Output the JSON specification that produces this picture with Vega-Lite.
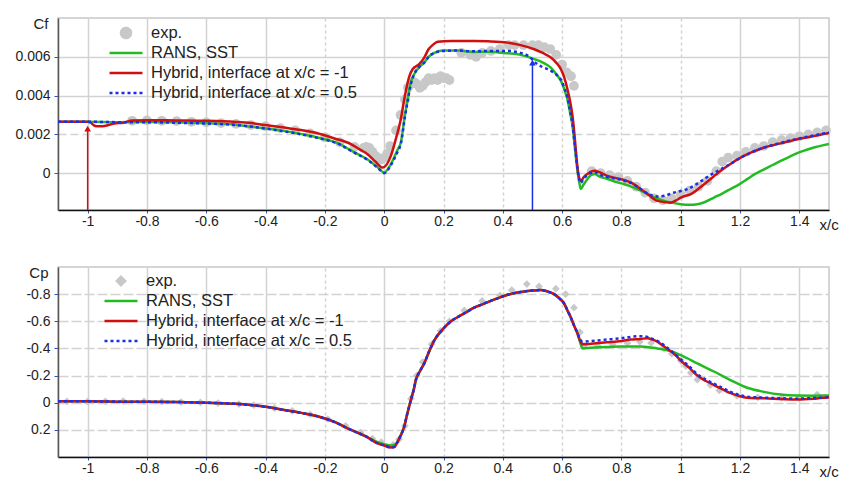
{
"$schema": "https://vega.github.io/schema/vega-lite/v6.json",
"background": "white",
"padding": {"left": 14, "top": 15, "right": 0, "bottom": 0},
"spacing": 31,
"resolve": {"scale": {"color": "independent"}},
"datasets": {
"cf_exp": [
{"s":"exp","x":-0.85,"y":0.0027},{"s":"exp","x":-0.8,"y":0.00272},{"s":"exp","x":-0.75,"y":0.0027},{"s":"exp","x":-0.7,"y":0.00268},{"s":"exp","x":-0.65,"y":0.00265},{"s":"exp","x":-0.6,"y":0.00262},{"s":"exp","x":-0.55,"y":0.00258},{"s":"exp","x":-0.5,"y":0.00254},{"s":"exp","x":-0.45,"y":0.00248},{"s":"exp","x":-0.4,"y":0.00242},{"s":"exp","x":-0.35,"y":0.00232},{"s":"exp","x":-0.3,"y":0.0022},{"s":"exp","x":-0.25,"y":0.00205},{"s":"exp","x":-0.2,"y":0.00185},{"s":"exp","x":-0.15,"y":0.0016},{"s":"exp","x":-0.1,"y":0.00135},{"s":"exp","x":-0.07,"y":0.0013},{"s":"exp","x":-0.06,"y":0.00135},{"s":"exp","x":-0.05,"y":0.0013},{"s":"exp","x":-0.04,"y":0.0011},{"s":"exp","x":-0.03,"y":0.0009},{"s":"exp","x":-0.02,"y":0.00078},{"s":"exp","x":-0.01,"y":0.0007},{"s":"exp","x":0.0,"y":0.0008},{"s":"exp","x":0.01,"y":0.001},{"s":"exp","x":0.02,"y":0.0014},{"s":"exp","x":0.04,"y":0.0022},{"s":"exp","x":0.055,"y":0.003},{"s":"exp","x":0.07,"y":0.0038},{"s":"exp","x":0.08,"y":0.0044},{"s":"exp","x":0.09,"y":0.0046},{"s":"exp","x":0.1,"y":0.0047},{"s":"exp","x":0.11,"y":0.0046},{"s":"exp","x":0.12,"y":0.0044},{"s":"exp","x":0.13,"y":0.0045},{"s":"exp","x":0.14,"y":0.0047},{"s":"exp","x":0.15,"y":0.0049},{"s":"exp","x":0.16,"y":0.0048},{"s":"exp","x":0.17,"y":0.0049},{"s":"exp","x":0.18,"y":0.0048},{"s":"exp","x":0.19,"y":0.005},{"s":"exp","x":0.2,"y":0.0049},{"s":"exp","x":0.21,"y":0.0049},{"s":"exp","x":0.22,"y":0.0048},{"s":"exp","x":0.26,"y":0.0062},{"s":"exp","x":0.29,"y":0.0061},{"s":"exp","x":0.31,"y":0.006},{"s":"exp","x":0.33,"y":0.0062},{"s":"exp","x":0.36,"y":0.0063},{"s":"exp","x":0.39,"y":0.0064},{"s":"exp","x":0.42,"y":0.0066},{"s":"exp","x":0.44,"y":0.0066},{"s":"exp","x":0.47,"y":0.0066},{"s":"exp","x":0.5,"y":0.0066},{"s":"exp","x":0.52,"y":0.0066},{"s":"exp","x":0.54,"y":0.0065},{"s":"exp","x":0.56,"y":0.0064},{"s":"exp","x":0.58,"y":0.0061},{"s":"exp","x":0.6,"y":0.0056},{"s":"exp","x":0.615,"y":0.0052},{"s":"exp","x":0.63,"y":0.005},{"s":"exp","x":0.64,"y":0.0045},{"s":"exp","x":0.7,"y":0.0001},{"s":"exp","x":0.73,"y":0.0},{"s":"exp","x":0.76,"y":-0.0001},{"s":"exp","x":0.79,"y":-0.0002},{"s":"exp","x":0.82,"y":-0.0004},{"s":"exp","x":0.85,"y":-0.0007},{"s":"exp","x":0.88,"y":-0.001},{"s":"exp","x":0.91,"y":-0.0013},{"s":"exp","x":0.94,"y":-0.0014},{"s":"exp","x":0.97,"y":-0.0013},{"s":"exp","x":1.0,"y":-0.0011},{"s":"exp","x":1.03,"y":-0.0009},{"s":"exp","x":1.06,"y":-0.0007},{"s":"exp","x":1.09,"y":-0.0004},{"s":"exp","x":1.12,"y":0.0001},{"s":"exp","x":1.14,"y":0.0006},{"s":"exp","x":1.16,"y":0.0008},{"s":"exp","x":1.19,"y":0.0009},{"s":"exp","x":1.22,"y":0.0011},{"s":"exp","x":1.25,"y":0.0013},{"s":"exp","x":1.28,"y":0.0014},{"s":"exp","x":1.31,"y":0.0016},{"s":"exp","x":1.34,"y":0.0017},{"s":"exp","x":1.37,"y":0.0018},{"s":"exp","x":1.4,"y":0.0019},{"s":"exp","x":1.43,"y":0.002},{"s":"exp","x":1.46,"y":0.0021},{"s":"exp","x":1.49,"y":0.0022}
],
"cf_sst": [
{"s":"sst","x":-1.1,"y":0.00265},{"s":"sst","x":-1.0,"y":0.00265},{"s":"sst","x":-0.9,"y":0.00263},{"s":"sst","x":-0.8,"y":0.00264},{"s":"sst","x":-0.7,"y":0.00262},{"s":"sst","x":-0.6,"y":0.00257},{"s":"sst","x":-0.5,"y":0.0025},{"s":"sst","x":-0.45,"y":0.0024},{"s":"sst","x":-0.34,"y":0.00218},{"s":"sst","x":-0.225,"y":0.00184},{"s":"sst","x":-0.15,"y":0.0015},{"s":"sst","x":-0.11,"y":0.00115},{"s":"sst","x":-0.056,"y":0.0007},{"s":"sst","x":-0.022,"y":0.0003},{"s":"sst","x":0.0,"y":0.00003},{"s":"sst","x":0.02,"y":0.0004},{"s":"sst","x":0.045,"y":0.0012},{"s":"sst","x":0.056,"y":0.00158},{"s":"sst","x":0.07,"y":0.003},{"s":"sst","x":0.079,"y":0.0038},{"s":"sst","x":0.09,"y":0.0047},{"s":"sst","x":0.101,"y":0.0051},{"s":"sst","x":0.12,"y":0.0055},{"s":"sst","x":0.135,"y":0.0057},{"s":"sst","x":0.15,"y":0.006},{"s":"sst","x":0.169,"y":0.0062},{"s":"sst","x":0.2,"y":0.00632},{"s":"sst","x":0.25,"y":0.00632},{"s":"sst","x":0.3,"y":0.00625},{"s":"sst","x":0.35,"y":0.00626},{"s":"sst","x":0.416,"y":0.00618},{"s":"sst","x":0.46,"y":0.0061},{"s":"sst","x":0.506,"y":0.00588},{"s":"sst","x":0.535,"y":0.0057},{"s":"sst","x":0.562,"y":0.00544},{"s":"sst","x":0.58,"y":0.0051},{"s":"sst","x":0.596,"y":0.00476},{"s":"sst","x":0.608,"y":0.0043},{"s":"sst","x":0.618,"y":0.0038},{"s":"sst","x":0.627,"y":0.0031},{"s":"sst","x":0.635,"y":0.00244},{"s":"sst","x":0.641,"y":0.0016},{"s":"sst","x":0.646,"y":0.00089},{"s":"sst","x":0.652,"y":0.0001},{"s":"sst","x":0.657,"y":-0.0004},{"s":"sst","x":0.663,"y":-0.00082},{"s":"sst","x":0.672,"y":-0.0006},{"s":"sst","x":0.685,"y":-0.00031},{"s":"sst","x":0.697,"y":-0.0001},{"s":"sst","x":0.708,"y":-0.00005},{"s":"sst","x":0.73,"y":-0.0002},{"s":"sst","x":0.753,"y":-0.0003},{"s":"sst","x":0.78,"y":-0.00045},{"s":"sst","x":0.809,"y":-0.00057},{"s":"sst","x":0.831,"y":-0.00068},{"s":"sst","x":0.865,"y":-0.0009},{"s":"sst","x":0.888,"y":-0.00108},{"s":"sst","x":0.92,"y":-0.0013},{"s":"sst","x":0.944,"y":-0.00143},{"s":"sst","x":0.97,"y":-0.00152},{"s":"sst","x":1.0,"y":-0.0016},{"s":"sst","x":1.03,"y":-0.00163},{"s":"sst","x":1.056,"y":-0.0016},{"s":"sst","x":1.08,"y":-0.0015},{"s":"sst","x":1.112,"y":-0.00126},{"s":"sst","x":1.14,"y":-0.00105},{"s":"sst","x":1.168,"y":-0.00082},{"s":"sst","x":1.2,"y":-0.00055},{"s":"sst","x":1.224,"y":-0.00031},{"s":"sst","x":1.25,"y":-0.00005},{"s":"sst","x":1.281,"y":0.0002},{"s":"sst","x":1.31,"y":0.00042},{"s":"sst","x":1.337,"y":0.00063},{"s":"sst","x":1.365,"y":0.00083},{"s":"sst","x":1.393,"y":0.00103},{"s":"sst","x":1.42,"y":0.00118},{"s":"sst","x":1.449,"y":0.00132},{"s":"sst","x":1.475,"y":0.00142},{"s":"sst","x":1.5,"y":0.0015}
],
"cf_h1": [
{"s":"h1","x":-1.1,"y":0.00265},{"s":"h1","x":-1.0,"y":0.00265},{"s":"h1","x":-0.99,"y":0.0026},{"s":"h1","x":-0.98,"y":0.00248},{"s":"h1","x":-0.97,"y":0.00242},{"s":"h1","x":-0.95,"y":0.00242},{"s":"h1","x":-0.93,"y":0.00248},{"s":"h1","x":-0.91,"y":0.00256},{"s":"h1","x":-0.88,"y":0.0026},{"s":"h1","x":-0.85,"y":0.00272},{"s":"h1","x":-0.8,"y":0.00273},{"s":"h1","x":-0.7,"y":0.00272},{"s":"h1","x":-0.6,"y":0.0027},{"s":"h1","x":-0.5,"y":0.00264},{"s":"h1","x":-0.449,"y":0.00258},{"s":"h1","x":-0.4,"y":0.00248},{"s":"h1","x":-0.337,"y":0.00235},{"s":"h1","x":-0.28,"y":0.00222},{"s":"h1","x":-0.225,"y":0.00206},{"s":"h1","x":-0.17,"y":0.0018},{"s":"h1","x":-0.112,"y":0.0015},{"s":"h1","x":-0.08,"y":0.0012},{"s":"h1","x":-0.056,"y":0.00098},{"s":"h1","x":-0.03,"y":0.0006},{"s":"h1","x":-0.005,"y":0.00029},{"s":"h1","x":0.0225,"y":0.00089},{"s":"h1","x":0.04,"y":0.0018},{"s":"h1","x":0.056,"y":0.00278},{"s":"h1","x":0.07,"y":0.004},{"s":"h1","x":0.085,"y":0.005},{"s":"h1","x":0.0957,"y":0.00536},{"s":"h1","x":0.118,"y":0.00562},{"s":"h1","x":0.135,"y":0.00596},{"s":"h1","x":0.15,"y":0.0064},{"s":"h1","x":0.163,"y":0.0066},{"s":"h1","x":0.18,"y":0.00677},{"s":"h1","x":0.225,"y":0.00682},{"s":"h1","x":0.303,"y":0.00682},{"s":"h1","x":0.35,"y":0.0068},{"s":"h1","x":0.416,"y":0.00673},{"s":"h1","x":0.46,"y":0.0066},{"s":"h1","x":0.506,"y":0.00639},{"s":"h1","x":0.535,"y":0.0062},{"s":"h1","x":0.562,"y":0.00596},{"s":"h1","x":0.58,"y":0.0057},{"s":"h1","x":0.596,"y":0.00536},{"s":"h1","x":0.608,"y":0.0049},{"s":"h1","x":0.618,"y":0.00433},{"s":"h1","x":0.627,"y":0.0037},{"s":"h1","x":0.635,"y":0.00295},{"s":"h1","x":0.641,"y":0.0021},{"s":"h1","x":0.646,"y":0.00124},{"s":"h1","x":0.654,"y":0.00003},{"s":"h1","x":0.663,"y":-0.0004},{"s":"h1","x":0.673,"y":-0.0002},{"s":"h1","x":0.685,"y":-0.00005},{"s":"h1","x":0.708,"y":0.00012},{"s":"h1","x":0.73,"y":0.00002},{"s":"h1","x":0.753,"y":-0.00014},{"s":"h1","x":0.798,"y":-0.00031},{"s":"h1","x":0.831,"y":-0.00048},{"s":"h1","x":0.865,"y":-0.00082},{"s":"h1","x":0.888,"y":-0.00108},{"s":"h1","x":0.921,"y":-0.00143},{"s":"h1","x":0.966,"y":-0.00152},{"s":"h1","x":0.985,"y":-0.0014},{"s":"h1","x":1.0,"y":-0.00126},{"s":"h1","x":1.034,"y":-0.00108},{"s":"h1","x":1.079,"y":-0.00057},{"s":"h1","x":1.135,"y":0.00012},{"s":"h1","x":1.17,"y":0.0005},{"s":"h1","x":1.202,"y":0.0008},{"s":"h1","x":1.24,"y":0.00108},{"s":"h1","x":1.281,"y":0.00132},{"s":"h1","x":1.34,"y":0.00155},{"s":"h1","x":1.393,"y":0.00175},{"s":"h1","x":1.45,"y":0.00192},{"s":"h1","x":1.5,"y":0.00207}
],
"cf_h05": [
{"s":"h05","x":-1.1,"y":0.00265},{"s":"h05","x":-1.0,"y":0.00265},{"s":"h05","x":-0.9,"y":0.00263},{"s":"h05","x":-0.8,"y":0.00263},{"s":"h05","x":-0.7,"y":0.0026},{"s":"h05","x":-0.6,"y":0.00256},{"s":"h05","x":-0.5,"y":0.00248},{"s":"h05","x":-0.45,"y":0.0024},{"s":"h05","x":-0.34,"y":0.00216},{"s":"h05","x":-0.225,"y":0.00182},{"s":"h05","x":-0.15,"y":0.00148},{"s":"h05","x":-0.11,"y":0.00113},{"s":"h05","x":-0.056,"y":0.00068},{"s":"h05","x":-0.022,"y":0.00028},{"s":"h05","x":0.0,"y":0.0},{"s":"h05","x":0.02,"y":0.00035},{"s":"h05","x":0.045,"y":0.0011},{"s":"h05","x":0.056,"y":0.0015},{"s":"h05","x":0.07,"y":0.0029},{"s":"h05","x":0.079,"y":0.0037},{"s":"h05","x":0.09,"y":0.0046},{"s":"h05","x":0.101,"y":0.0051},{"s":"h05","x":0.12,"y":0.0055},{"s":"h05","x":0.135,"y":0.0057},{"s":"h05","x":0.15,"y":0.006},{"s":"h05","x":0.169,"y":0.0062},{"s":"h05","x":0.2,"y":0.0063},{"s":"h05","x":0.25,"y":0.00632},{"s":"h05","x":0.3,"y":0.00628},{"s":"h05","x":0.35,"y":0.0063},{"s":"h05","x":0.416,"y":0.0063},{"s":"h05","x":0.46,"y":0.0062},{"s":"h05","x":0.49,"y":0.006},{"s":"h05","x":0.51,"y":0.0057},{"s":"h05","x":0.53,"y":0.0055},{"s":"h05","x":0.551,"y":0.00536},{"s":"h05","x":0.57,"y":0.0052},{"s":"h05","x":0.585,"y":0.00502},{"s":"h05","x":0.6,"y":0.0047},{"s":"h05","x":0.607,"y":0.00441},{"s":"h05","x":0.618,"y":0.0039},{"s":"h05","x":0.627,"y":0.0032},{"s":"h05","x":0.635,"y":0.0025},{"s":"h05","x":0.641,"y":0.0017},{"s":"h05","x":0.646,"y":0.001},{"s":"h05","x":0.652,"y":0.0002},{"s":"h05","x":0.657,"y":-0.0003},{"s":"h05","x":0.663,"y":-0.0005},{"s":"h05","x":0.672,"y":-0.0003},{"s":"h05","x":0.685,"y":-0.0001},{"s":"h05","x":0.708,"y":0.00005},{"s":"h05","x":0.73,"y":-0.0001},{"s":"h05","x":0.753,"y":-0.0002},{"s":"h05","x":0.8,"y":-0.00035},{"s":"h05","x":0.831,"y":-0.0005},{"s":"h05","x":0.865,"y":-0.00082},{"s":"h05","x":0.888,"y":-0.00105},{"s":"h05","x":0.92,"y":-0.0012},{"s":"h05","x":0.944,"y":-0.00117},{"s":"h05","x":0.978,"y":-0.001},{"s":"h05","x":1.0,"y":-0.00092},{"s":"h05","x":1.022,"y":-0.00082},{"s":"h05","x":1.05,"y":-0.0006},{"s":"h05","x":1.079,"y":-0.00031},{"s":"h05","x":1.1,"y":-0.0001},{"s":"h05","x":1.135,"y":0.0002},{"s":"h05","x":1.17,"y":0.0005},{"s":"h05","x":1.202,"y":0.0008},{"s":"h05","x":1.24,"y":0.00108},{"s":"h05","x":1.281,"y":0.00132},{"s":"h05","x":1.34,"y":0.00157},{"s":"h05","x":1.393,"y":0.00177},{"s":"h05","x":1.45,"y":0.00195},{"s":"h05","x":1.5,"y":0.0021}
],
"cf_arrows": [
{"s":"h1","x":-1,"tip":0.0023},{"s":"h05","x":0.5,"tip":0.0057}
],
"cp_exp": [
{"s":"exp","x":-1.07,"y":-0.01},{"s":"exp","x":-1.0,"y":-0.01},{"s":"exp","x":-0.94,"y":-0.01},{"s":"exp","x":-0.88,"y":-0.012},{"s":"exp","x":-0.81,"y":-0.01},{"s":"exp","x":-0.75,"y":-0.008},{"s":"exp","x":-0.685,"y":-0.005},{"s":"exp","x":-0.62,"y":-0.002},{"s":"exp","x":-0.56,"y":0.003},{"s":"exp","x":-0.49,"y":0.01},{"s":"exp","x":-0.44,"y":0.018},{"s":"exp","x":-0.37,"y":0.04},{"s":"exp","x":-0.31,"y":0.06},{"s":"exp","x":-0.25,"y":0.085},{"s":"exp","x":-0.19,"y":0.12},{"s":"exp","x":-0.13,"y":0.17},{"s":"exp","x":-0.08,"y":0.22},{"s":"exp","x":-0.04,"y":0.265},{"s":"exp","x":-0.01,"y":0.29},{"s":"exp","x":0.03,"y":0.31},{"s":"exp","x":0.05,"y":0.27},{"s":"exp","x":0.07,"y":0.17},{"s":"exp","x":0.09,"y":-0.03},{"s":"exp","x":0.11,"y":-0.2},{"s":"exp","x":0.13,"y":-0.3},{"s":"exp","x":0.16,"y":-0.43},{"s":"exp","x":0.19,"y":-0.53},{"s":"exp","x":0.22,"y":-0.6},{"s":"exp","x":0.27,"y":-0.68},{"s":"exp","x":0.33,"y":-0.75},{"s":"exp","x":0.39,"y":-0.79},{"s":"exp","x":0.43,"y":-0.83},{"s":"exp","x":0.481,"y":-0.874},{"s":"exp","x":0.522,"y":-0.857},{"s":"exp","x":0.579,"y":-0.84},{"s":"exp","x":0.612,"y":-0.8},{"s":"exp","x":0.64,"y":-0.7},{"s":"exp","x":0.66,"y":-0.52},{"s":"exp","x":0.674,"y":-0.42},{"s":"exp","x":0.72,"y":-0.42},{"s":"exp","x":0.77,"y":-0.43},{"s":"exp","x":0.82,"y":-0.44},{"s":"exp","x":0.862,"y":-0.45},{"s":"exp","x":0.9,"y":-0.44},{"s":"exp","x":0.944,"y":-0.4},{"s":"exp","x":0.97,"y":-0.36},{"s":"exp","x":1.0,"y":-0.31},{"s":"exp","x":1.017,"y":-0.27},{"s":"exp","x":1.034,"y":-0.22},{"s":"exp","x":1.056,"y":-0.17},{"s":"exp","x":1.1,"y":-0.13},{"s":"exp","x":1.13,"y":-0.09},{"s":"exp","x":1.19,"y":-0.05},{"s":"exp","x":1.26,"y":-0.04},{"s":"exp","x":1.34,"y":-0.035},{"s":"exp","x":1.4,"y":-0.04},{"s":"exp","x":1.46,"y":-0.06}
],
"cp_sst": [
{"s":"sst","x":-1.1,"y":-0.01},{"s":"sst","x":-1.0,"y":-0.01},{"s":"sst","x":-0.9,"y":-0.008},{"s":"sst","x":-0.8,"y":-0.007},{"s":"sst","x":-0.7,"y":-0.005},{"s":"sst","x":-0.6,"y":0.0},{"s":"sst","x":-0.5,"y":0.008},{"s":"sst","x":-0.45,"y":0.017},{"s":"sst","x":-0.4,"y":0.03},{"s":"sst","x":-0.337,"y":0.054},{"s":"sst","x":-0.28,"y":0.075},{"s":"sst","x":-0.225,"y":0.1},{"s":"sst","x":-0.17,"y":0.14},{"s":"sst","x":-0.112,"y":0.2},{"s":"sst","x":-0.06,"y":0.25},{"s":"sst","x":-0.022,"y":0.29},{"s":"sst","x":0.0,"y":0.305},{"s":"sst","x":0.023,"y":0.315},{"s":"sst","x":0.035,"y":0.31},{"s":"sst","x":0.045,"y":0.285},{"s":"sst","x":0.056,"y":0.24},{"s":"sst","x":0.067,"y":0.18},{"s":"sst","x":0.078,"y":0.08},{"s":"sst","x":0.09,"y":-0.02},{"s":"sst","x":0.1,"y":-0.1},{"s":"sst","x":0.107,"y":-0.17},{"s":"sst","x":0.12,"y":-0.23},{"s":"sst","x":0.135,"y":-0.29},{"s":"sst","x":0.15,"y":-0.37},{"s":"sst","x":0.169,"y":-0.46},{"s":"sst","x":0.185,"y":-0.51},{"s":"sst","x":0.197,"y":-0.54},{"s":"sst","x":0.225,"y":-0.6},{"s":"sst","x":0.247,"y":-0.63},{"s":"sst","x":0.275,"y":-0.665},{"s":"sst","x":0.303,"y":-0.7},{"s":"sst","x":0.331,"y":-0.725},{"s":"sst","x":0.359,"y":-0.75},{"s":"sst","x":0.387,"y":-0.773},{"s":"sst","x":0.416,"y":-0.795},{"s":"sst","x":0.444,"y":-0.81},{"s":"sst","x":0.472,"y":-0.82},{"s":"sst","x":0.5,"y":-0.826},{"s":"sst","x":0.528,"y":-0.83},{"s":"sst","x":0.55,"y":-0.82},{"s":"sst","x":0.573,"y":-0.8},{"s":"sst","x":0.59,"y":-0.77},{"s":"sst","x":0.607,"y":-0.73},{"s":"sst","x":0.618,"y":-0.68},{"s":"sst","x":0.629,"y":-0.63},{"s":"sst","x":0.64,"y":-0.57},{"s":"sst","x":0.652,"y":-0.51},{"s":"sst","x":0.66,"y":-0.45},{"s":"sst","x":0.669,"y":-0.4},{"s":"sst","x":0.697,"y":-0.405},{"s":"sst","x":0.75,"y":-0.41},{"s":"sst","x":0.8,"y":-0.415},{"s":"sst","x":0.865,"y":-0.415},{"s":"sst","x":0.921,"y":-0.4},{"s":"sst","x":0.966,"y":-0.38},{"s":"sst","x":1.0,"y":-0.35},{"s":"sst","x":1.056,"y":-0.29},{"s":"sst","x":1.112,"y":-0.23},{"s":"sst","x":1.168,"y":-0.166},{"s":"sst","x":1.224,"y":-0.11},{"s":"sst","x":1.281,"y":-0.08},{"s":"sst","x":1.337,"y":-0.06},{"s":"sst","x":1.393,"y":-0.053},{"s":"sst","x":1.45,"y":-0.052},{"s":"sst","x":1.5,"y":-0.053}
],
"cp_h1": [
{"s":"h1","x":-1.1,"y":-0.01},{"s":"h1","x":-1.0,"y":-0.01},{"s":"h1","x":-0.9,"y":-0.008},{"s":"h1","x":-0.8,"y":-0.007},{"s":"h1","x":-0.7,"y":-0.005},{"s":"h1","x":-0.6,"y":0.0},{"s":"h1","x":-0.5,"y":0.008},{"s":"h1","x":-0.45,"y":0.017},{"s":"h1","x":-0.4,"y":0.03},{"s":"h1","x":-0.337,"y":0.054},{"s":"h1","x":-0.28,"y":0.075},{"s":"h1","x":-0.225,"y":0.1},{"s":"h1","x":-0.17,"y":0.14},{"s":"h1","x":-0.112,"y":0.2},{"s":"h1","x":-0.06,"y":0.25},{"s":"h1","x":-0.022,"y":0.3},{"s":"h1","x":0.0,"y":0.315},{"s":"h1","x":0.023,"y":0.33},{"s":"h1","x":0.035,"y":0.325},{"s":"h1","x":0.045,"y":0.29},{"s":"h1","x":0.056,"y":0.24},{"s":"h1","x":0.067,"y":0.18},{"s":"h1","x":0.078,"y":0.08},{"s":"h1","x":0.09,"y":-0.02},{"s":"h1","x":0.1,"y":-0.1},{"s":"h1","x":0.107,"y":-0.17},{"s":"h1","x":0.12,"y":-0.23},{"s":"h1","x":0.135,"y":-0.29},{"s":"h1","x":0.15,"y":-0.37},{"s":"h1","x":0.169,"y":-0.46},{"s":"h1","x":0.185,"y":-0.51},{"s":"h1","x":0.197,"y":-0.54},{"s":"h1","x":0.225,"y":-0.6},{"s":"h1","x":0.247,"y":-0.63},{"s":"h1","x":0.275,"y":-0.665},{"s":"h1","x":0.303,"y":-0.7},{"s":"h1","x":0.331,"y":-0.725},{"s":"h1","x":0.359,"y":-0.75},{"s":"h1","x":0.387,"y":-0.773},{"s":"h1","x":0.416,"y":-0.795},{"s":"h1","x":0.444,"y":-0.81},{"s":"h1","x":0.472,"y":-0.82},{"s":"h1","x":0.5,"y":-0.826},{"s":"h1","x":0.528,"y":-0.83},{"s":"h1","x":0.55,"y":-0.82},{"s":"h1","x":0.573,"y":-0.8},{"s":"h1","x":0.59,"y":-0.77},{"s":"h1","x":0.607,"y":-0.73},{"s":"h1","x":0.618,"y":-0.68},{"s":"h1","x":0.629,"y":-0.63},{"s":"h1","x":0.64,"y":-0.57},{"s":"h1","x":0.652,"y":-0.51},{"s":"h1","x":0.66,"y":-0.46},{"s":"h1","x":0.669,"y":-0.43},{"s":"h1","x":0.7,"y":-0.435},{"s":"h1","x":0.75,"y":-0.445},{"s":"h1","x":0.8,"y":-0.455},{"s":"h1","x":0.831,"y":-0.465},{"s":"h1","x":0.865,"y":-0.47},{"s":"h1","x":0.888,"y":-0.475},{"s":"h1","x":0.905,"y":-0.465},{"s":"h1","x":0.921,"y":-0.45},{"s":"h1","x":0.94,"y":-0.42},{"s":"h1","x":0.966,"y":-0.38},{"s":"h1","x":0.985,"y":-0.345},{"s":"h1","x":1.0,"y":-0.31},{"s":"h1","x":1.03,"y":-0.255},{"s":"h1","x":1.056,"y":-0.2},{"s":"h1","x":1.085,"y":-0.16},{"s":"h1","x":1.112,"y":-0.13},{"s":"h1","x":1.14,"y":-0.1},{"s":"h1","x":1.168,"y":-0.07},{"s":"h1","x":1.2,"y":-0.048},{"s":"h1","x":1.224,"y":-0.037},{"s":"h1","x":1.25,"y":-0.033},{"s":"h1","x":1.281,"y":-0.032},{"s":"h1","x":1.34,"y":-0.027},{"s":"h1","x":1.393,"y":-0.024},{"s":"h1","x":1.45,"y":-0.03},{"s":"h1","x":1.5,"y":-0.04}
],
"cp_h05": [
{"s":"h05","x":-1.1,"y":-0.01},{"s":"h05","x":-1.0,"y":-0.01},{"s":"h05","x":-0.9,"y":-0.008},{"s":"h05","x":-0.8,"y":-0.007},{"s":"h05","x":-0.7,"y":-0.005},{"s":"h05","x":-0.6,"y":0.0},{"s":"h05","x":-0.5,"y":0.008},{"s":"h05","x":-0.45,"y":0.017},{"s":"h05","x":-0.4,"y":0.03},{"s":"h05","x":-0.337,"y":0.054},{"s":"h05","x":-0.28,"y":0.075},{"s":"h05","x":-0.225,"y":0.1},{"s":"h05","x":-0.17,"y":0.14},{"s":"h05","x":-0.112,"y":0.2},{"s":"h05","x":-0.06,"y":0.25},{"s":"h05","x":-0.022,"y":0.3},{"s":"h05","x":0.0,"y":0.315},{"s":"h05","x":0.023,"y":0.33},{"s":"h05","x":0.035,"y":0.325},{"s":"h05","x":0.045,"y":0.29},{"s":"h05","x":0.056,"y":0.24},{"s":"h05","x":0.067,"y":0.18},{"s":"h05","x":0.078,"y":0.08},{"s":"h05","x":0.09,"y":-0.02},{"s":"h05","x":0.1,"y":-0.1},{"s":"h05","x":0.107,"y":-0.17},{"s":"h05","x":0.12,"y":-0.23},{"s":"h05","x":0.135,"y":-0.29},{"s":"h05","x":0.15,"y":-0.37},{"s":"h05","x":0.169,"y":-0.46},{"s":"h05","x":0.185,"y":-0.51},{"s":"h05","x":0.197,"y":-0.54},{"s":"h05","x":0.225,"y":-0.6},{"s":"h05","x":0.247,"y":-0.63},{"s":"h05","x":0.275,"y":-0.665},{"s":"h05","x":0.303,"y":-0.7},{"s":"h05","x":0.331,"y":-0.725},{"s":"h05","x":0.359,"y":-0.75},{"s":"h05","x":0.387,"y":-0.773},{"s":"h05","x":0.416,"y":-0.795},{"s":"h05","x":0.444,"y":-0.81},{"s":"h05","x":0.472,"y":-0.82},{"s":"h05","x":0.5,"y":-0.826},{"s":"h05","x":0.528,"y":-0.83},{"s":"h05","x":0.55,"y":-0.82},{"s":"h05","x":0.573,"y":-0.8},{"s":"h05","x":0.59,"y":-0.77},{"s":"h05","x":0.607,"y":-0.73},{"s":"h05","x":0.618,"y":-0.68},{"s":"h05","x":0.629,"y":-0.63},{"s":"h05","x":0.64,"y":-0.57},{"s":"h05","x":0.652,"y":-0.51},{"s":"h05","x":0.66,"y":-0.47},{"s":"h05","x":0.669,"y":-0.45},{"s":"h05","x":0.697,"y":-0.455},{"s":"h05","x":0.75,"y":-0.465},{"s":"h05","x":0.8,"y":-0.475},{"s":"h05","x":0.831,"y":-0.485},{"s":"h05","x":0.865,"y":-0.49},{"s":"h05","x":0.888,"y":-0.485},{"s":"h05","x":0.905,"y":-0.47},{"s":"h05","x":0.921,"y":-0.455},{"s":"h05","x":0.94,"y":-0.43},{"s":"h05","x":0.966,"y":-0.385},{"s":"h05","x":1.0,"y":-0.32},{"s":"h05","x":1.03,"y":-0.265},{"s":"h05","x":1.056,"y":-0.21},{"s":"h05","x":1.085,"y":-0.17},{"s":"h05","x":1.112,"y":-0.14},{"s":"h05","x":1.14,"y":-0.11},{"s":"h05","x":1.168,"y":-0.08},{"s":"h05","x":1.2,"y":-0.055},{"s":"h05","x":1.224,"y":-0.045},{"s":"h05","x":1.25,"y":-0.04},{"s":"h05","x":1.281,"y":-0.037},{"s":"h05","x":1.34,"y":-0.033},{"s":"h05","x":1.393,"y":-0.03},{"s":"h05","x":1.45,"y":-0.035},{"s":"h05","x":1.5,"y":-0.04}
]
},
"vconcat": [
{
"width": 771, "height": 192,
"encoding": {
"x": {"field": "x", "type": "quantitative", "scale": {"domain": [-1.1, 1.5], "nice": false, "zero": false},
 "axis": {"values": [-1,-0.8,-0.6,-0.4,-0.2,0,0.2,0.4,0.6,0.8,1,1.2,1.4], "labelExpr": "'' + round(datum.value*10)/10", "title": "x/c", "titleX": 761, "titleY": 14, "titleAlign": "left", "titleBaseline": "middle", "tickSize": 3, "labelPadding": 1, "domainColor": "#111",
 "gridDash": {"condition": {"test": "datum.value > -0.3 && datum.value < 1.1 && abs(datum.value) > 0.01", "value": [3, 3]}, "value": []}}},
"y": {"field": "y", "type": "quantitative", "scale": {"domain": [-0.0019, 0.008], "nice": false, "zero": false},
 "axis": {"values": [0, 0.002, 0.004, 0.006], "labelExpr": "'' + round(datum.value*1000)/1000", "title": "Cf", "titleAngle": 0, "titleAlign": "right", "titleBaseline": "top", "titleX": -10, "titleY": -2, "tickSize": 4, "labelPadding": 4, "domainColor": "#555",
 "gridDash": {"condition": {"test": "abs(datum.value - 0.002) < 0.0001", "value": [8, 4]}, "value": []}}},
"color": {"field": "s", "type": "nominal",
 "scale": {"domain": ["exp", "sst", "h1", "h05"], "range": ["#c8c8c8", "#22bb22", "#d01010", "#1a2fe6"]},
 "legend": {"title": null, "legendX": 50, "legendY": 5,
  "labelExpr": "datum.value === 'exp' ? 'exp.' : datum.value === 'sst' ? 'RANS, SST' : datum.value === 'h1' ? 'Hybrid, interface at x/c = -1' : 'Hybrid, interface at x/c = 0.5'",
  "encode": {"symbols": {"update": {
   "shape": {"signal": "datum.value === 'exp' ? 'circle' : 'stroke'"},
   "size": {"signal": "datum.value === 'exp' ? 100 : 1089"},
   "fill": {"signal": "datum.value === 'exp' ? '#c8c8c8' : 'transparent'"},
   "stroke": {"signal": "datum.value === 'exp' ? 'transparent' : datum.value === 'sst' ? '#22bb22' : datum.value === 'h1' ? '#d01010' : '#1a2fe6'"},
   "strokeDash": {"signal": "datum.value === 'h05' ? [3, 3] : [1, 0]"},
   "strokeWidth": {"value": 2.5},
   "opacity": {"value": 1}}}}}}
},
"layer": [
{"data": {"name": "cf_exp"}, "mark": {"type": "circle", "size": 95, "opacity": 1}},
{"data": {"name": "cf_arrows"}, "mark": {"type": "rule", "strokeWidth": 1.5}, "encoding": {"y": {"field": "tip", "type": "quantitative"}, "y2": {"datum": -0.0019}}},
{"data": {"name": "cf_arrows"}, "mark": {"type": "point", "shape": "triangle-up", "filled": true, "size": 45, "opacity": 1}, "encoding": {"y": {"field": "tip", "type": "quantitative"}}},
{"data": {"name": "cf_sst"}, "mark": {"type": "line", "strokeWidth": 2.5, "interpolate": "monotone"}},
{"data": {"name": "cf_h1"}, "mark": {"type": "line", "strokeWidth": 2.5, "interpolate": "monotone"}},
{"data": {"name": "cf_h05"}, "mark": {"type": "line", "strokeWidth": 2.5, "strokeDash": [3, 3], "interpolate": "monotone"}}
]
},
{
"width": 771, "height": 190,
"encoding": {
"x": {"field": "x", "type": "quantitative", "scale": {"domain": [-1.1, 1.5], "nice": false, "zero": false},
 "axis": {"values": [-1,-0.8,-0.6,-0.4,-0.2,0,0.2,0.4,0.6,0.8,1,1.2,1.4], "labelExpr": "'' + round(datum.value*10)/10", "title": "x/c", "titleX": 761, "titleY": 14, "titleAlign": "left", "titleBaseline": "middle", "tickSize": 3, "labelPadding": 1, "domainColor": "#111",
 "gridDash": {"condition": {"test": "datum.value > -0.3 && datum.value < 1.1 && abs(datum.value) > 0.01", "value": [3, 3]}, "value": []}}},
"y": {"field": "y", "type": "quantitative", "scale": {"domain": [-1, 0.4], "reverse": true, "nice": false, "zero": false},
 "axis": {"values": [-0.8, -0.6, -0.4, -0.2, 0, 0.2], "labelExpr": "'' + round(datum.value*10)/10", "title": "Cp", "titleAngle": 0, "titleAlign": "right", "titleBaseline": "top", "titleX": -10, "titleY": -2, "tickSize": 4, "labelPadding": 4, "domainColor": "#555", "gridDash": [10, 3]}},
"color": {"field": "s", "type": "nominal",
 "scale": {"domain": ["exp", "sst", "h1", "h05"], "range": ["#c8c8c8", "#22bb22", "#d01010", "#1a2fe6"]},
 "legend": {"title": null, "legendX": 45, "legendY": 4,
  "labelExpr": "datum.value === 'exp' ? 'exp.' : datum.value === 'sst' ? 'RANS, SST' : datum.value === 'h1' ? 'Hybrid, interface at x/c = -1' : 'Hybrid, interface at x/c = 0.5'",
  "encode": {"symbols": {"update": {
   "shape": {"signal": "datum.value === 'exp' ? 'diamond' : 'stroke'"},
   "size": {"signal": "datum.value === 'exp' ? 70 : 1089"},
   "fill": {"signal": "datum.value === 'exp' ? '#c8c8c8' : 'transparent'"},
   "stroke": {"signal": "datum.value === 'exp' ? 'transparent' : datum.value === 'sst' ? '#22bb22' : datum.value === 'h1' ? '#d01010' : '#1a2fe6'"},
   "strokeDash": {"signal": "datum.value === 'h05' ? [3, 3] : [1, 0]"},
   "strokeWidth": {"value": 2.5},
   "opacity": {"value": 1}}}}}}
},
"layer": [
{"data": {"name": "cp_exp"}, "mark": {"type": "point", "shape": "diamond", "filled": true, "size": 60, "opacity": 1}},
{"data": {"name": "cp_sst"}, "mark": {"type": "line", "strokeWidth": 2.5, "interpolate": "monotone"}},
{"data": {"name": "cp_h1"}, "mark": {"type": "line", "strokeWidth": 2.5, "interpolate": "monotone"}},
{"data": {"name": "cp_h05"}, "mark": {"type": "line", "strokeWidth": 2.5, "strokeDash": [3, 3], "interpolate": "monotone"}},
{"data": {"values": [{}]}, "mark": {"type": "rule", "color": "#4a5ef0", "strokeWidth": 2}, "encoding": {"y": {"datum": -1}, "x": null, "color": null}}
]
}
],
"config": {
"font": "Liberation Sans",
"view": {"stroke": "#c8c8c8", "strokeWidth": 1.5},
"axis": {"labelFont": "Liberation Sans", "labelFontSize": 14, "labelColor": "#222", "gridColor": "#d2d2d2", "gridWidth": 1.5, "tickColor": "#3050d0", "domainWidth": 1.5, "titleFont": "Liberation Sans", "titleFontSize": 15, "titleFontWeight": "normal", "titleColor": "#222"},
"legend": {"orient": "none", "padding": 0, "clipHeight": 20, "rowPadding": 0, "symbolSize": 1089, "symbolStrokeWidth": 2.5, "symbolType": "stroke", "labelFont": "Liberation Sans", "labelFontSize": 16.5, "labelColor": "#222", "labelOffset": 7, "labelLimit": 400}
}
}
